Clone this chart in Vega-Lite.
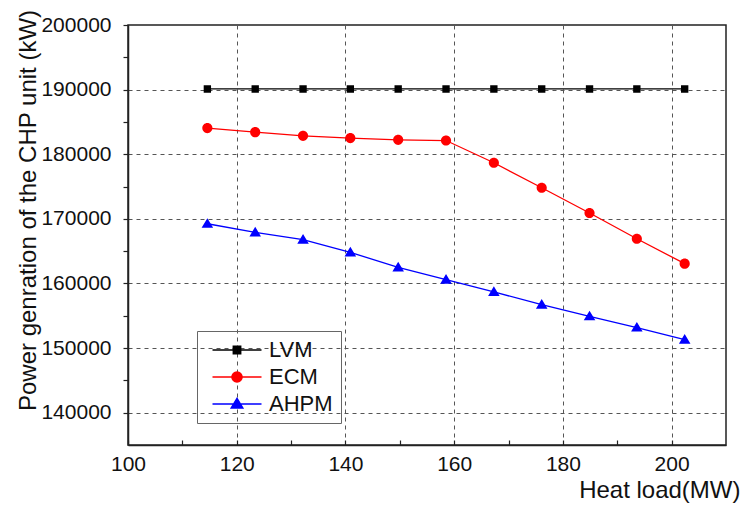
{
  "$schema": "https://vega.github.io/schema/vega-lite/v6.json",
  "autosize": {"type": "none"},
  "padding": {"left": 128, "top": 25, "right": 16, "bottom": 67},
  "width": 598,
  "height": 420,
  "background": "white",
  "config": {
    "font": "Liberation Sans",
    "view": {"stroke": "#222", "strokeWidth": 1.5},
    "axis": {
      "labelFont": "Liberation Sans",
      "titleFont": "Liberation Sans",
      "labelColor": "#111",
      "titleColor": "#111",
      "titleFontWeight": "normal",
      "domainColor": "#222",
      "domainWidth": 1.5,
      "tickColor": "#222",
      "tickWidth": 1.2,
      "gridColor": "#555",
      "gridDash": [4, 4],
      "gridWidth": 1,
      "labelOverlap": false,
      "labelFlush": false
    }
  },
  "data": {
    "values": [
      {"x": 114.6, "y": 190100, "s": "LVM"},
      {"x": 123.4, "y": 190100, "s": "LVM"},
      {"x": 132.2, "y": 190100, "s": "LVM"},
      {"x": 140.9, "y": 190100, "s": "LVM"},
      {"x": 149.7, "y": 190100, "s": "LVM"},
      {"x": 158.5, "y": 190100, "s": "LVM"},
      {"x": 167.3, "y": 190100, "s": "LVM"},
      {"x": 176.1, "y": 190100, "s": "LVM"},
      {"x": 184.9, "y": 190100, "s": "LVM"},
      {"x": 193.6, "y": 190100, "s": "LVM"},
      {"x": 202.4, "y": 190100, "s": "LVM"},
      {"x": 114.6, "y": 184050, "s": "ECM"},
      {"x": 123.4, "y": 183420, "s": "ECM"},
      {"x": 132.2, "y": 182850, "s": "ECM"},
      {"x": 140.9, "y": 182500, "s": "ECM"},
      {"x": 149.7, "y": 182230, "s": "ECM"},
      {"x": 158.5, "y": 182120, "s": "ECM"},
      {"x": 167.3, "y": 178680, "s": "ECM"},
      {"x": 176.1, "y": 174810, "s": "ECM"},
      {"x": 184.9, "y": 170900, "s": "ECM"},
      {"x": 193.6, "y": 166920, "s": "ECM"},
      {"x": 202.4, "y": 163060, "s": "ECM"},
      {"x": 114.6, "y": 169240, "s": "AHPM"},
      {"x": 123.4, "y": 167900, "s": "AHPM"},
      {"x": 132.2, "y": 166770, "s": "AHPM"},
      {"x": 140.9, "y": 164810, "s": "AHPM"},
      {"x": 149.7, "y": 162490, "s": "AHPM"},
      {"x": 158.5, "y": 160590, "s": "AHPM"},
      {"x": 167.3, "y": 158690, "s": "AHPM"},
      {"x": 176.1, "y": 156720, "s": "AHPM"},
      {"x": 184.9, "y": 154920, "s": "AHPM"},
      {"x": 193.6, "y": 153170, "s": "AHPM"},
      {"x": 202.4, "y": 151310, "s": "AHPM"}
    ]
  },
  "encoding": {
    "x": {
      "field": "x",
      "type": "quantitative",
      "scale": {"domain": [100, 210], "nice": false, "zero": false},
      "axis": {
        "title": "Heat load(MW)",
        "values": [100, 110, 120, 130, 140, 150, 160, 170, 180, 190, 200],
        "labelExpr": "datum.value % 20 == 0 ? datum.label : ''",
        "gridOpacity": {"condition": {"test": "datum.value % 20 == 0 && datum.value > 100", "value": 1}, "value": 0},
        "tickSize": -5,
        "labelFontSize": 21,
        "labelPadding": 13,
        "titleFontSize": 24,
        "titleX": 612,
        "titleY": 52,
        "titleAlign": "right",
        "titleAnchor": "end",
        "titleBaseline": "alphabetic"
      }
    },
    "y": {
      "field": "y",
      "type": "quantitative",
      "scale": {"domain": [135000, 200000], "nice": false, "zero": false},
      "axis": {
        "title": "Power genration of the CHP unit (kW)",
        "values": [140000, 145000, 150000, 155000, 160000, 165000, 170000, 175000, 180000, 185000, 190000, 195000, 200000],
        "format": "d",
        "labelExpr": "datum.value % 10000 == 0 ? datum.label : ''",
        "gridOpacity": {"condition": {"test": "datum.value % 10000 == 0 && datum.value < 200000", "value": 1}, "value": 0},
        "tickSize": 5,
        "labelFontSize": 21,
        "labelPadding": 12,
        "titleFontSize": 24,
        "titleX": -100,
        "titleY": 185,
        "titleAngle": -90,
        "titleAlign": "center",
        "titleBaseline": "middle"
      }
    },
    "color": {
      "field": "s",
      "type": "nominal",
      "scale": {"domain": ["LVM", "ECM", "AHPM"], "range": ["#000000", "#ff0000", "#0000ff"]},
      "legend": {
        "title": null,
        "orient": "none",
        "legendX": 69,
        "legendY": 306,
        "strokeColor": "#666",
        "padding": 8,
        "labelFont": "Liberation Sans",
        "labelFontSize": 22,
        "labelColor": "#111",
        "symbolSize": 49,
        "symbolOffset": 21,
        "labelOffset": 21,
        "rowPadding": 5,
        "symbolStrokeWidth": 1.5,
        "encode": {"symbols": {"update": {"stroke": {"scale": "color", "field": "value"}, "fill": {"scale": "color", "field": "value"}}}}
      }
    }
  },
  "layer": [
    {
      "mark": {"type": "line", "strokeWidth": 1.3}
    },
    {
      "mark": {"type": "point", "filled": true, "size": 49, "opacity": 1, "strokeWidth": 0},
      "encoding": {
        "shape": {
          "field": "s",
          "type": "nominal",
          "scale": {
            "domain": ["LVM", "ECM", "AHPM"],
            "range": [
              "M-7,0H7M-1.05,-1.05H1.05V1.05H-1.05Z",
              "M-7,0H7M-1.45,0A1.45,1.45 0 1,0 1.45,0A1.45,1.45 0 1,0 -1.45,0Z",
              "M-7,0H7M0,-1.6L1.65,1.15H-1.65Z"
            ]
          },
          "legend": {
            "title": null,
            "orient": "none",
            "legendX": 69,
            "legendY": 306,
            "strokeColor": "#666",
            "padding": 8,
            "labelFont": "Liberation Sans",
            "labelFontSize": 22,
            "labelColor": "#111",
            "symbolSize": 49,
            "symbolOffset": 21,
            "labelOffset": 21,
            "rowPadding": 5,
            "symbolStrokeWidth": 1.5,
            "encode": {"symbols": {"update": {"stroke": {"scale": "color", "field": "value"}, "fill": {"scale": "color", "field": "value"}}}}
          }
        }
      }
    }
  ]
}
